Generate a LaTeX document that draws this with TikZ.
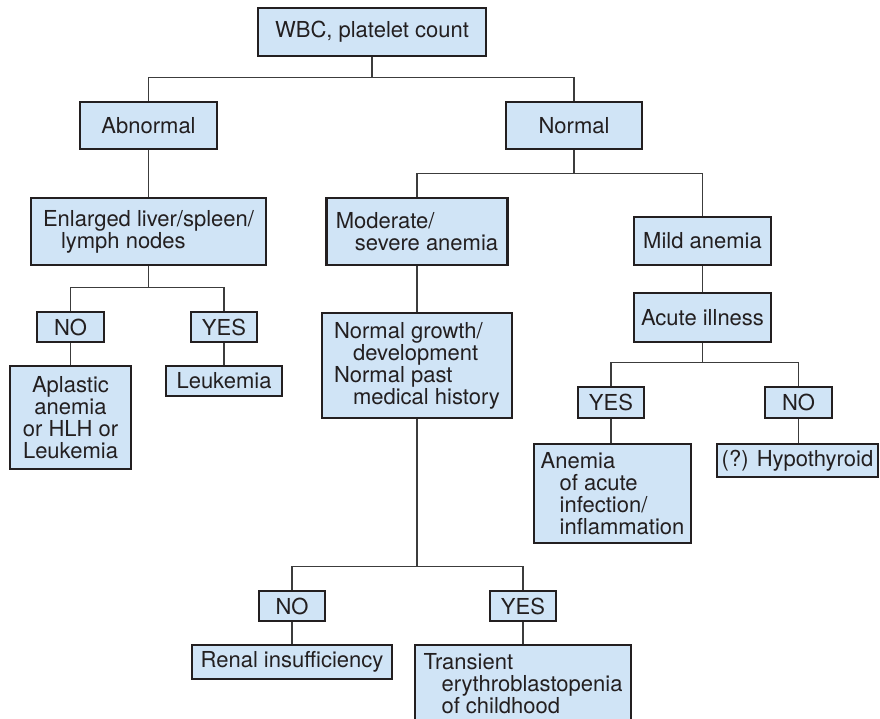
\documentclass[tikz,border=0pt]{standalone}
\usepackage{fontspec}
\setmainfont{TeX Gyre Heros}
\definecolor{boxfill}{RGB}{208,228,246}
\definecolor{ink}{RGB}{35,31,32}
\definecolor{wire}{RGB}{60,60,60}
\begin{document}
\begin{tikzpicture}[x=1pt,y=-1pt,
  box/.style={draw=ink,fill=boxfill,line width=2.8pt,inner sep=0pt,text=ink,
    font=\fontsize{22}{22}\selectfont},
  conn/.style={draw=wire,line width=1.6pt}]
\useasboundingbox (0,0) rectangle (880,719);
% nodes
\node[box,minimum width=228,minimum height=48] (wbc) at (372,32) {WBC, platelet count};
\node[box,minimum width=137,minimum height=47] (abn) at (148.5,125.5) {Abnormal};
\node[box,minimum width=136,minimum height=47] (nor) at (574,125.5) {Normal};
\node[box,minimum width=235,minimum height=67,align=left] (enl) at (148.5,231.5)
  {Enlarged liver/spleen/\\\hspace*{18pt}lymph nodes};
\node[box,minimum width=181,minimum height=67,align=left] (mod) at (417,231.5)
  {Moderate/\\\hspace*{19pt}severe anemia};
\node[box,minimum width=137,minimum height=48] (mild) at (702.5,241) {Mild anemia};
\node[box,minimum width=137,minimum height=49] (acute) at (702.5,317.5) {Acute illness};
\node[box,minimum width=67,minimum height=30] (no1) at (70.5,327) {NO};
\node[box,minimum width=66,minimum height=30] (yes1) at (224,327) {YES};
\node[box,minimum width=121,minimum height=103,align=center] (apl) at (70.5,417.5)
  {Aplastic\\anemia\\or HLH or\\Leukemia};
\node[box,minimum width=116,minimum height=30] (leuk) at (224,381) {Leukemia};
\node[box,minimum width=190,minimum height=105,align=left] (ngr) at (417,365.5)
  {Normal growth/\\\hspace*{19pt}development\\Normal past\\\hspace*{19pt}medical history};
\node[box,minimum width=66,minimum height=31] (yes2) at (611,402.5) {YES};
\node[box,minimum width=67,minimum height=31] (no2) at (798.5,402.5) {NO};
\node[box,minimum width=157,minimum height=99,align=left] (anem) at (612.5,493.5)
  {Anemia\\\hspace*{19pt}of acute\\\hspace*{19pt}infection/\\\hspace*{19pt}inflammation};
\node[box,minimum width=161,minimum height=33] (hypo) at (797.5,460.5) {(?) Hypothyroid};
\node[box,minimum width=66,minimum height=30] (no3) at (292,606) {NO};
\node[box,minimum width=66,minimum height=30] (yes3) at (523,606) {YES};
\node[box,minimum width=200,minimum height=34] (renal) at (292,662) {Renal insufficiency};
\node[box,minimum width=216,minimum height=78,align=left] (trans) at (523,684)
  {Transient\\\hspace*{18pt}erythroblastopenia\\\hspace*{18pt}of childhood};
% connectors
\draw[conn] (wbc.south) -- ++(0,20) -| (abn.north);
\draw[conn] (wbc.south) -- ++(0,20) -| (nor.north);
\draw[conn] (abn.south) -- (enl.north);
\draw[conn] (enl.south) -- ++(0,21) -| (no1.north);
\draw[conn] (enl.south) -- ++(0,21) -| (yes1.north);
\draw[conn] (no1.south) -- (apl.north);
\draw[conn] (yes1.south) -- (leuk.north);
\draw[conn] (nor.south) -- ++(0,23) -| (mod.north);
\draw[conn] (nor.south) -- ++(0,23) -| (mild.north);
\draw[conn] (mod.south) -- (mod.south |- ngr.north);
\draw[conn] (mild.south) -- (acute.north);
\draw[conn] (acute.south) -- ++(0,19) -| (yes2.north);
\draw[conn] (acute.south) -- ++(0,19) -| (no2.north);
\draw[conn] (yes2.south) -- (yes2.south |- anem.north);
\draw[conn] (no2.south) -- (no2.south |- hypo.north);
\draw[conn] (ngr.south) -- ++(0,147) -| (no3.north);
\draw[conn] (ngr.south) -- ++(0,147) -| (yes3.north);
\draw[conn] (no3.south) -- (renal.north);
\draw[conn] (yes3.south) -- (trans.north);
\end{tikzpicture}
\end{document}
